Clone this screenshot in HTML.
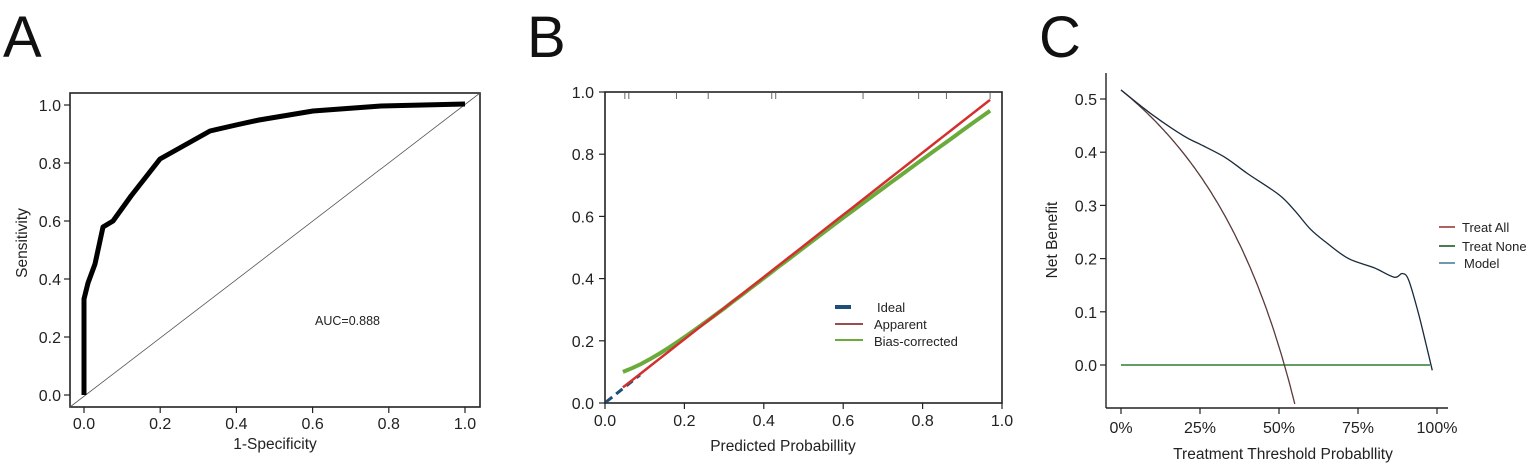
<!DOCTYPE html>
<html><head><meta charset="utf-8"><style>
html,body{margin:0;padding:0;background:#fff;}
svg{display:block;font-family:"Liberation Sans",Arial,sans-serif;}
</style></head><body>
<svg id="s" width="1535" height="469" viewBox="0 0 1535 469" xmlns="http://www.w3.org/2000/svg">
<rect width="1535" height="469" fill="#fff"/>
<text x="3" y="57" font-size="58" fill="#111">A</text>
<text x="527" y="57" font-size="58" fill="#111">B</text>
<text x="1039" y="57" font-size="58" fill="#111">C</text>

<!-- Panel A -->
<rect x="70" y="93" width="410" height="314" fill="none" stroke="#222" stroke-width="1.6"/>
<line x1="70" y1="407" x2="480" y2="93" stroke="#555" stroke-width="0.8"/>
<polyline fill="none" stroke="#000" stroke-width="5" stroke-linejoin="round"
 points="84,395 84,299 88,283 95,264 103,227 113,221 131,196 160,159 210,131 236,125 259,120 313,111 381,106 465,104"/>
<g stroke="#222" stroke-width="1.2" id="ta"></g>
<g font-size="16" fill="#222" id="la"></g>
<text x="275" y="449" font-size="15.5" text-anchor="middle" fill="#222">1-Specificity</text>
<text transform="translate(27,243) rotate(-90)" font-size="15.5" text-anchor="middle" fill="#222">Sensitivity</text>
<text x="315" y="325" font-size="12.5" fill="#222">AUC=0.888</text>

<!-- Panel B -->
<rect x="605" y="92" width="397" height="311" fill="none" stroke="#222" stroke-width="1.6"/>
<g id="tb" stroke="#222" stroke-width="1.2"></g>
<g font-size="16" fill="#222" id="lb"></g>
<g stroke="#666" stroke-width="1" id="rug"></g>
<line x1="606" y1="402" x2="640" y2="375" stroke="#1f4e79" stroke-width="3" stroke-dasharray="8,5"/>
<path id="bc" fill="none" stroke="#6aab3c" stroke-width="4"/>
<path id="ap" fill="none" stroke="#d32f2f" stroke-width="2.5"/>
<line x1="835" y1="307" x2="851" y2="307" stroke="#1f4e79" stroke-width="4"/>
<line x1="835" y1="324" x2="863" y2="324" stroke="#7a1010" stroke-width="1.5"/>
<line x1="835" y1="340" x2="863" y2="340" stroke="#6aab3c" stroke-width="2"/>
<text x="877" y="312" font-size="13" fill="#222">Ideal</text>
<text x="874" y="329" font-size="13" fill="#222">Apparent</text>
<text x="874" y="346" font-size="13" fill="#222">Bias-corrected</text>
<text x="783" y="451" font-size="15.5" text-anchor="middle" fill="#222">Predicted Probabillity</text>

<!-- Panel C -->
<line x1="1106" y1="73" x2="1106" y2="408" stroke="#222" stroke-width="1.4"/>
<line x1="1106" y1="408" x2="1448" y2="408" stroke="#222" stroke-width="1.4"/>
<g id="tc" stroke="#222" stroke-width="1.2"></g>
<g font-size="16" fill="#222" id="lc"></g>
<line x1="1121" y1="365" x2="1430" y2="365" stroke="#2e7d32" stroke-width="1.6"/>
<path id="ta2" fill="none" stroke="#5a3a3a" stroke-width="1.3"/>
<path id="mod" fill="none" stroke="#1a2a3a" stroke-width="1.3"/>
<line x1="1439" y1="227" x2="1455" y2="227" stroke="#8b2020" stroke-width="1.4"/>
<line x1="1439" y1="246" x2="1455" y2="246" stroke="#1b5e20" stroke-width="1.6"/>
<line x1="1439" y1="263" x2="1455" y2="263" stroke="#2a7090" stroke-width="1.4"/>
<text x="1462" y="232" font-size="13" fill="#222">Treat All</text>
<text x="1462" y="251" font-size="13" fill="#222">Treat None</text>
<text x="1464" y="268" font-size="13" fill="#222">Model</text>
<text transform="translate(1057,240) rotate(-90)" font-size="15.5" text-anchor="middle" fill="#222">Net Benefit</text>
<text x="1283" y="459" font-size="15.5" text-anchor="middle" fill="#222">Treatment Threshold Probabllity</text>
</svg>
<script>
var NS="http://www.w3.org/2000/svg";
function el(p,t,a,txt){var e=document.createElementNS(NS,t);for(var k in a)e.setAttribute(k,a[k]);if(txt!=null)e.textContent=txt;document.getElementById(p).appendChild(e);}
var v=[0,0.2,0.4,0.6,0.8,1.0];
v.forEach(function(d){
 var x=84+381*d,y=395-290*d;
 el("ta","line",{x1:x,y1:407,x2:x,y2:413});
 el("ta","line",{x1:64,y1:y,x2:70,y2:y});
 el("la","text",{x:x,y:429,"text-anchor":"middle"},d.toFixed(1));
 el("la","text",{x:61,y:y+6,"text-anchor":"end"},d.toFixed(1));
 var bx=605+397*d,by=403-311*d;
 el("tb","line",{x1:bx,y1:403,x2:bx,y2:409});
 el("tb","line",{x1:599,y1:by,x2:605,y2:by});
 el("lb","text",{x:bx,y:426,"text-anchor":"middle"},d.toFixed(1));
 el("lb","text",{x:594,y:by+6,"text-anchor":"end"},d.toFixed(1));
});
[0.05,0.06,0.18,0.26,0.42,0.43,0.65,0.79,0.86,0.97].forEach(function(d){var x=605+397*d;el("rug","line",{x1:x,y1:93,x2:x,y2:99});});
function bX(d){return 605+397*d} function bY(d){return 403-311*d}
var ap="",bc="";
for(var i=0;i<=40;i++){var p=0.045+i*(0.97-0.045)/40;
 ap+=(i?"L":"M")+bX(p).toFixed(1)+","+bY(p+0.005).toFixed(1);
 var q=p<0.45?p+0.055*Math.exp(-(p-0.045)/0.1):p-0.03*Math.pow((p-0.45)/0.52,1.5);
 bc+=(i?"L":"M")+bX(p).toFixed(1)+","+bY(q).toFixed(1);}
document.getElementById("ap").setAttribute("d",ap);
document.getElementById("bc").setAttribute("d",bc);
function cX(t){return 1121+316*t} function cY(n){return 365-532*n}
["0%","25%","50%","75%","100%"].forEach(function(s,i){var x=cX(i/4);
 el("tc","line",{x1:x,y1:408,x2:x,y2:414});
 el("lc","text",{x:x,y:433,"text-anchor":"middle"},s);});
[0,0.1,0.2,0.3,0.4,0.5].forEach(function(n){var y=cY(n);
 el("tc","line",{x1:1100,y1:y,x2:1106,y2:y});
 el("lc","text",{x:1097,y:y+6,"text-anchor":"end"},n.toFixed(1));});
var pr=0.517,d="";
for(var t=0;t<=0.555;t+=0.005){var nb=pr-(1-pr)*t/(1-t);if(nb<-0.081)nb=-0.081;d+=(t?"L":"M")+cX(t).toFixed(1)+","+cY(nb).toFixed(1);}
document.getElementById("ta2").setAttribute("d",d);
var m=[[0,0.517],[0.1,0.47],[0.2,0.43],[0.25,0.415],[0.33,0.39],[0.4,0.36],[0.5,0.32],[0.55,0.29],[0.6,0.255],[0.65,0.23],[0.72,0.2],[0.8,0.183],[0.865,0.165],[0.89,0.172],[0.91,0.16],[0.94,0.1],[0.965,0.04],[0.985,-0.01]];
var md="M"+cX(m[0][0])+","+cY(m[0][1]);
for(var i=0;i<m.length-1;i++){var p0=m[Math.max(i-1,0)],p1=m[i],p2=m[i+1],p3=m[Math.min(i+2,m.length-1)];
 var c1x=cX(p1[0]+(p2[0]-p0[0])/6),c1y=cY(p1[1]+(p2[1]-p0[1])/6),c2x=cX(p2[0]-(p3[0]-p1[0])/6),c2y=cY(p2[1]-(p3[1]-p1[1])/6);
 md+="C"+c1x+","+c1y+" "+c2x+","+c2y+" "+cX(p2[0])+","+cY(p2[1]);}
document.getElementById("mod").setAttribute("d",md);
</script>
</body></html>
